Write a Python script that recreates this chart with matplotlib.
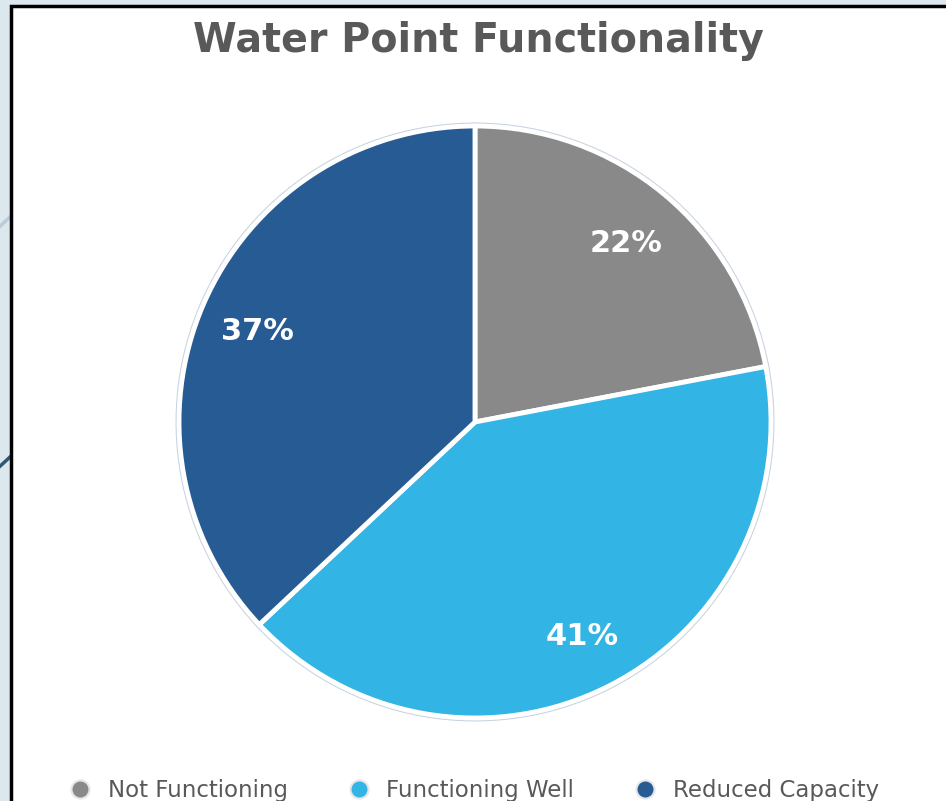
import matplotlib
matplotlib.use('Agg')
import matplotlib.pyplot as plt
from matplotlib.patches import Rectangle
from matplotlib.lines import Line2D

# chart data
categories = ['Not Functioning', 'Functioning Well', 'Reduced Capacity']
shares = [22, 41, 37]
colors = ['#898989', '#32b4e5', '#265b93']

W, H = 946, 801
fig = plt.figure(figsize=(W / 100, H / 100), dpi=100, facecolor='#dce8ee')

# slide backdrop: faint diagonal strokes behind the chart box
fig.add_artist(Line2D([-0.05, 0.03], [1 - 270 / H, 1 - 200 / H], transform=fig.transFigure,
                      color='#b9cdd8', lw=2.5, zorder=0))
fig.add_artist(Line2D([-0.05, 0.03], [1 - 510 / H, 1 - 440 / H], transform=fig.transFigure,
                      color='#2f5b72', lw=2.5, zorder=0))

# white chart box with black frame
fig.add_artist(Rectangle((11 / W, -0.05), 1.1, 1 - 6 / H + 0.05, transform=fig.transFigure,
                         facecolor='white', edgecolor='black', lw=2.5, zorder=1))

cx, cy, r = 475, 422, 296
ax = fig.add_axes([(cx - r) / W, (H - cy - r) / H, 2 * r / W, 2 * r / H])
ax.set_zorder(2)
ax.patch.set_visible(False)

# thin pale outline underneath, white gaps on top
ax.pie(shares, colors=colors, startangle=90, counterclock=False, radius=1.0,
       wedgeprops=dict(edgecolor='#c6d3e2', linewidth=5.0))
wedges, texts, autotexts = ax.pie(
    shares, colors=colors, startangle=90, counterclock=False, radius=1.0,
    autopct='%d%%', pctdistance=0.8,
    wedgeprops=dict(edgecolor='white', linewidth=3.5),
    textprops=dict(color='white', fontsize=22, fontweight='bold', family='DejaVu Sans'))
for t in autotexts:
    x, y = t.get_position()
    t.set_position((x, y - 0.012))
ax.set_xlim(-1, 1)
ax.set_ylim(-1, 1)
ax.set_aspect('equal')
ax.axis('off')

fig.text(478 / W, 1 - 41 / H, 'Water Point Functionality', ha='center', va='center',
         fontsize=28.5, fontweight='bold', color='#595959', family='DejaVu Sans', zorder=3)

handles = [Line2D([], [], marker='o', linestyle='none', markersize=13,
                  markerfacecolor=c, markeredgecolor='#e6e6e6', markeredgewidth=1.5)
           for c in colors]
leg = fig.legend(handles, categories, loc='center', bbox_to_anchor=(474 / W, 1 - 791 / H),
                 ncol=3, frameon=False, fontsize=16.5, labelcolor='#595959',
                 handletextpad=0.7, columnspacing=2.6, handlelength=1.0)
leg.set_zorder(3)

fig.savefig('out.png', dpi=100, facecolor=fig.get_facecolor())
